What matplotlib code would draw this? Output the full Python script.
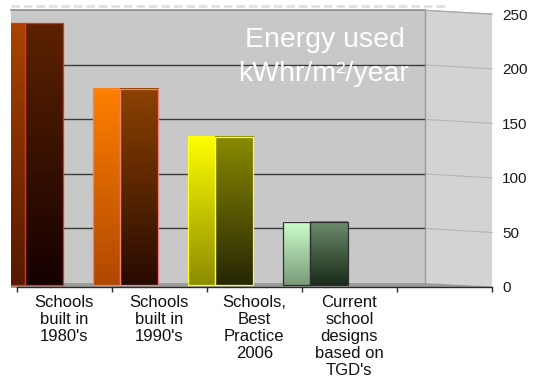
import numpy as np
import matplotlib
matplotlib.use('Agg')
import matplotlib.pyplot as plt
from matplotlib.colors import LinearSegmentedColormap
from matplotlib.patches import Polygon
from matplotlib.lines import Line2D
from matplotlib.transforms import ScaledTranslation

# ---------------- data ----------------
categories = ["Schools\nbuilt in\n1980's",
              "Schools\nbuilt in\n1990's",
              "Schools,\nBest\nPractice\n2006",
              "Current\nschool\ndesigns\nbased on\nTGD's"]
energy = [238, 178, 134, 56]
yticks = [0, 50, 100, 150, 200, 250]
title_lines = ["Energy used", "kWhr/m\u00b2/year"]

# ---------------- style ----------------
light_top = ['#a84400', '#ff8000', '#ffff00', '#ccffcc']
light_bot = ['#561800', '#b04800', '#8c8c00', '#7a9a7a']
dark_top = ['#5c2200', '#8c4200', '#8a8a00', '#6c8c6c']
dark_bot = ['#160000', '#280a00', '#262606', '#1a2a1a']
edge = ['#ff2a00', '#f08080', '#ffff20', '#303030']

plt.rcParams['font.family'] = ['Liberation Sans', 'DejaVu Sans']

W, H, DPI = 540, 379, 100
fig = plt.figure(figsize=(W / DPI, H / DPI), dpi=DPI)


def fx(x):
    return x / W


def fy(y):
    return 1 - y / H


def P(pts):
    return [(fx(x), fy(y)) for x, y in pts]


# pixel geometry of the 3D frame
WL, WR, WT, W0, WB = 11, 425, 10.3, 283, 288
SR = 492
ppu = (W0 - WT) / yticks[-1]
slot = 95.0
c0 = 30.5

# walls and floor (decoration, figure pixel coords)
fig.add_artist(Polygon(P([(WL, WT), (WR, WT), (WR, W0), (WL, W0)]),
                       closed=True, fc='#c8c8c8', ec='none', zorder=-2,
                       transform=fig.transFigure))
fig.add_artist(Polygon(P([(WR, WT), (SR, 14), (SR, 287), (WR, W0)]),
                       closed=True, fc='#d3d3d3', ec='none', zorder=-2,
                       transform=fig.transFigure))
fig.add_artist(Polygon(P([(WL, W0), (WR, W0), (SR, 286.5), (SR, WB), (WL, WB)]),
                       closed=True, fc='#9c9c9c', ec='none', zorder=-1.5,
                       transform=fig.transFigure))
for v in yticks[1:]:
    yb = W0 - v * ppu
    fig.add_artist(Line2D([fx(WR), fx(SR)], [fy(yb), fy(yb + 4)],
                          color='#b4b4b4', lw=0.8, zorder=-1.4,
                          transform=fig.transFigure))
fig.add_artist(Line2D([fx(WR), fx(WR)], [fy(WT), fy(W0)], color='#9a9a9a',
                      lw=1.0, zorder=-1.4, transform=fig.transFigure))
fig.add_artist(Line2D([fx(WL), fx(WR)], [fy(WT), fy(WT)], color='#8c8c8c',
                      lw=1.2, zorder=-1.4, transform=fig.transFigure))
fig.add_artist(Line2D([fx(WR), fx(SR)], [fy(WT), fy(14)], color='#a8a8a8',
                      lw=0.8, zorder=-1.4, transform=fig.transFigure))
fig.add_artist(Line2D([fx(WL), fx(447)], [fy(6), fy(6)], color='#e0e0e0',
                      lw=2.0, ls=(0, (3, 1.5)), zorder=-1.4,
                      transform=fig.transFigure))

# main axes (back wall)
ax = fig.add_axes([fx(WL), fy(WB), (WR - WL) / W, (WB - WT) / H])
ax.set_facecolor('none')
for s in ax.spines.values():
    s.set_visible(False)

for v in yticks[1:-1]:
    ax.axhline(v, color='#3a3a3a', lw=1.0, zorder=1)

x = np.arange(len(energy))
BASE = -2.0
heights = [v - BASE for v in energy]
light = ax.bar(x - 0.342, heights, width=0.284, bottom=BASE, align='edge',
               fc='none', ec=edge, lw=0.9, zorder=3)
dark = ax.bar(x - 0.058, heights, width=0.40, bottom=BASE, align='edge',
              fc='none', ec=edge, lw=0.9, zorder=3)

grad = np.linspace(0, 1, 256).reshape(-1, 1)
for rects, tops, bots in ((light, light_top, light_bot),
                          (dark, dark_top, dark_bot)):
    for r, ct, cb in zip(rects, tops, bots):
        cmap = LinearSegmentedColormap.from_list('g', [cb, ct])
        x0, y0 = r.get_x(), r.get_y()
        w, h = r.get_width(), r.get_height()
        im = ax.imshow(grad, cmap=cmap, extent=[x0, x0 + w, y0, y0 + h],
                       origin='lower', aspect='auto', zorder=2,
                       interpolation='bilinear')
        im.set_clip_path(r)
        im.set_clip_box(ax.bbox)

ax.set_xlim((WL - c0) / slot, (WR - c0) / slot)
ax.set_ylim(-(WB - W0) / ppu, yticks[-1])
ax.set_xticks([])
ax.set_yticks(yticks)
ax.set_yticklabels([str(v) for v in yticks])
ax.yaxis.tick_right()
ax.tick_params(axis='y', length=0, pad=(502 - WR) * 72 / DPI,
               labelsize=11, labelcolor='#1a1a1a')
for lab in ax.get_yticklabels():
    lab.set_transform(lab.get_transform() +
                      ScaledTranslation(0, -4 / DPI, fig.dpi_scale_trans))

# front category axis
AL, AR, AY = 16.5, 492, 287
ax2 = fig.add_axes([fx(AL), fy(AY), (AR - AL) / W, 2 / H])
ax2.set_facecolor('none')
for k in ('top', 'left', 'right'):
    ax2.spines[k].set_visible(False)
ax2.spines['bottom'].set_color('#2a2a2a')
ax2.spines['bottom'].set_linewidth(1.0)
nslots = len(categories) + 1
ax2.set_xlim(0, nslots)
ax2.set_ylim(0, 1)
ax2.set_yticks([])
ax2.set_xticks(np.arange(nslots + 1))
ax2.set_xticklabels([])
ax2.set_xticks(np.arange(len(categories)) + 0.5, minor=True)
ax2.set_xticklabels(categories, minor=True)
ax2.tick_params(axis='x', which='major', length=5 * 72 / DPI, width=1.0,
                color='#2a2a2a', direction='out')
ax2.tick_params(axis='x', which='minor', length=0, pad=6, labelsize=12,
                labelcolor='#111111')
for lab in ax2.get_xticklabels(minor=True):
    lab.set_linespacing(1.15)

# title inside plot
fig.text(fx(325), fy(46.7), title_lines[0], ha='center', va='baseline',
         color='white', fontsize=20.5)
fig.text(fx(324), fy(80.7), title_lines[1], ha='center', va='baseline',
         color='white', fontsize=20.5)

fig.savefig('out.png', dpi=DPI)
